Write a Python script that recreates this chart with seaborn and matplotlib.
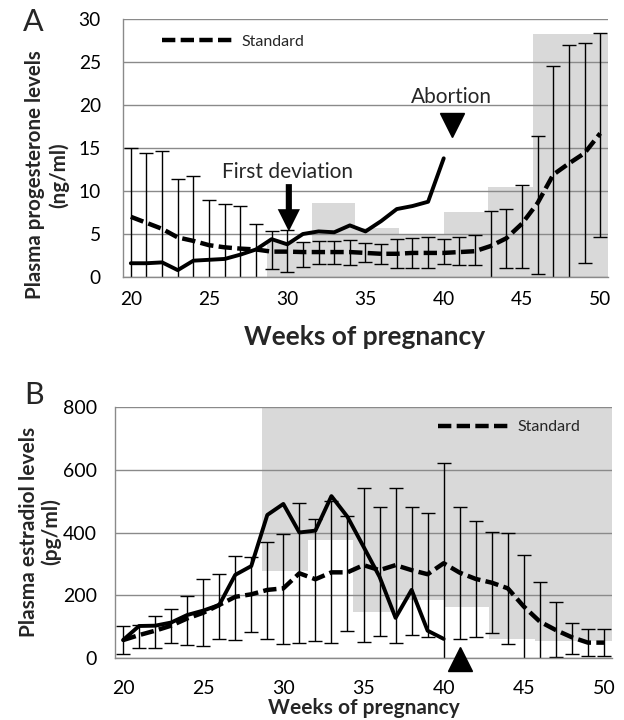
import matplotlib
matplotlib.use("Agg")
import matplotlib.pyplot as plt
from matplotlib.lines import Line2D
import seaborn as sns

# ---------------- data ----------------
weeks = list(range(20, 51))
patient_weeks = list(range(20, 41))

# Panel A: plasma progesterone (ng/ml)
a_std_mean = [7.0, 6.3, 5.6, 4.6, 4.2, 3.7, 3.45, 3.3, 3.2, 2.95, 2.95, 2.9, 2.9, 2.9, 2.9,
              2.8, 2.7, 2.7, 2.8, 2.8, 2.8, 2.9, 3.0, 3.6, 4.5, 6.2, 8.6, 11.9, 13.2, 14.4, 16.7]
a_std_upper = [15.0, 14.4, 14.7, 11.4, 11.7, 8.95, 8.5, 8.3, 6.2, 5.35, 5.5, 4.1, 4.2, 4.2, 4.3,
               4.0, 3.8, 4.4, 4.5, 4.6, 4.4, 4.6, 4.9, 7.7, 7.9, 10.7, 16.4, 24.5, 27.0, 27.2, 28.4]
a_std_lower = [-1.0, -2.0, -3.5, -2.2, -3.3, -1.5, -1.6, -1.7, -0.3, 0.9, 0.6, 1.2, 1.5, 1.55, 1.45,
               1.75, 1.55, 1.1, 1.0, 1.1, 1.55, 1.4, 1.4, -0.5, 1.0, 1.1, 0.35, -0.7, -0.6, 1.6, 4.7]
a_patient = [1.6, 1.6, 1.7, 0.8, 1.9, 2.0, 2.1, 2.6, 3.2, 4.4, 3.8, 5.0, 5.3, 5.2, 6.0, 5.3,
             6.5, 7.9, 8.25, 8.75, 13.8]

# reference-range blocks (week spans)
range_start = [28.7, 31.55, 34.35, 37.15, 40.0, 42.85, 45.7]
range_end = [31.55, 34.35, 37.15, 40.0, 42.85, 45.7, 50.5]
a_range_high = [4.1, 8.6, 5.7, 4.9, 7.6, 10.5, 28.3]

# Panel B: plasma estradiol (pg/ml)
b_std_mean = [57, 73, 87, 103, 126, 144, 169, 195, 203, 217, 222, 270, 251, 273, 273, 296,
              280, 296, 280, 267, 302, 272, 252, 240, 222, 164, 116, 89, 66, 49, 49]
b_std_upper = [103, 105, 134, 155, 199, 252, 268, 325, 323, 371, 395, 495, 443, 500, 453, 543,
               482, 541, 482, 461, 620, 480, 438, 402, 397, 327, 241, 177, 113, 91, 91]
b_std_lower = [12, 33, 31, 47, 43, 39, 62, 57, 83, 59, 45, 47, 54, 49, 87, 52, 71, 47, 73, 68,
               -20, 62, 68, 79, 45, -5, -10, 2, 13, 6, 6]
b_patient = [57, 102, 103, 113, 137, 151, 169, 265, 293, 456, 491, 400, 406, 516, 450, 355,
             259, 128, 217, 87, 61]
b_range_low = [276, 376, 146, 185, 164, 59, 53]

x_ticks = [20, 25, 30, 35, 40, 45, 50]
a_yticks = [0, 5, 10, 15, 20, 25, 30]
b_yticks = [0, 200, 400, 600, 800]

first_dev_week = 30.1
abortion_week_a = 40.5
abortion_week_b = 41

# ---------------- style ----------------
sns.set_theme(style="white")
plt.rcParams["font.family"] = ["Lato", "DejaVu Sans"]

GRAY_FILL = "#d9d9d9"
GRID = "#8a8a8a"
DASH = (0, (3.0, 1.2))

fig = plt.figure(figsize=(6.24, 7.2), dpi=100)
W, H = 624, 720
axA = fig.add_axes([123 / W, 1 - 277 / H, 485 / W, 258 / H])
axB = fig.add_axes([115 / W, 1 - 658 / H, 497 / W, 251 / H])


def style_axis(ax, ylim, yticks, xpad, ypad, fs):
    ax.set_xlim(19.5, 50.5)
    ax.set_ylim(*ylim)
    ax.set_xticks(x_ticks)
    ax.set_yticks(yticks)
    ax.set_axisbelow("line")
    ax.yaxis.grid(True, color=GRID, lw=1.0)
    ax.xaxis.grid(False)
    for s in ["top", "right"]:
        ax.spines[s].set_visible(False)
    for s in ["left", "bottom"]:
        ax.spines[s].set_color(GRID)
        ax.spines[s].set_linewidth(1.0)
    ax.tick_params(axis="x", length=0, pad=xpad, labelsize=fs, colors="black")
    ax.tick_params(axis="y", length=0, pad=ypad, labelsize=fs, colors="black")
    ax.set_xlabel("")
    ax.set_ylabel("")


# ---------------- Panel A ----------------
ax = axA
ax.bar(range_start, a_range_high, width=[e - s for s, e in zip(range_start, range_end)],
       align="edge", color=GRAY_FILL, edgecolor="none", zorder=0.5)
ax.errorbar(weeks, a_std_mean,
            yerr=[[m - l for m, l in zip(a_std_mean, a_std_lower)],
                  [u - m for m, u in zip(a_std_mean, a_std_upper)]],
            fmt="none", ecolor="black", elinewidth=1.0, capsize=4.7, capthick=1.0, zorder=2)
sns.lineplot(x=weeks, y=a_std_mean, ax=ax, color="black", lw=3.2, linestyle=DASH, zorder=3)
sns.lineplot(x=patient_weeks, y=a_patient, ax=ax, color="black", lw=2.8, zorder=3)
style_axis(ax, (0, 30), a_yticks, 10, 16, 13.8)

ax.annotate("", xy=(first_dev_week, 5.3), xytext=(first_dev_week, 10.8),
            arrowprops=dict(arrowstyle="simple, head_length=0.8, head_width=0.8, tail_width=0.22",
                            fc="black", ec="none", mutation_scale=20, shrinkA=0, shrinkB=0),
            zorder=4)
ax.text(30.0, 12.2, "First deviation", ha="center", va="center", fontsize=15, zorder=4)
ax.plot([abortion_week_a], [17.7], marker="v", ms=17, color="black", ls="none", zorder=4)
ax.text(abortion_week_a, 20.9, "Abortion", ha="center", va="center", fontsize=15, zorder=4)

ax.legend(handles=[Line2D([], [], color="black", lw=3.2, linestyle=DASH)],
          labels=["Standard"], loc="center left", bbox_to_anchor=(0.080, 0.911),
          frameon=False, handlelength=4.6, handletextpad=0.4, borderpad=0,
          borderaxespad=0, fontsize=11.5)

# ---------------- Panel B ----------------
ax = axB
ax.bar(range_start, [800 - v for v in b_range_low],
       width=[e - s for s, e in zip(range_start, range_end)], bottom=b_range_low,
       align="edge", color=GRAY_FILL, edgecolor="none", zorder=0.5)
ax.errorbar(weeks, b_std_mean,
            yerr=[[m - l for m, l in zip(b_std_mean, b_std_lower)],
                  [u - m for m, u in zip(b_std_mean, b_std_upper)]],
            fmt="none", ecolor="black", elinewidth=1.0, capsize=4.7, capthick=1.0, zorder=2)
sns.lineplot(x=weeks, y=b_std_mean, ax=ax, color="black", lw=3.2, linestyle=DASH, zorder=3)
sns.lineplot(x=patient_weeks, y=b_patient, ax=ax, color="black", lw=2.8, zorder=3)
style_axis(ax, (0, 800), b_yticks, 16, 13, 14)
ax.plot([abortion_week_b], [-3], marker="^", ms=17, color="black", ls="none",
        zorder=5, clip_on=False)

ax.legend(handles=[Line2D([], [], color="black", lw=3.2, linestyle=DASH)],
          labels=["Standard"], loc="center left", bbox_to_anchor=(0.65, 0.92),
          frameon=False, handlelength=4.6, handletextpad=0.4, borderpad=0,
          borderaxespad=0, fontsize=11.5)

# ---------------- labels ----------------
fig.text(47 / W, 1 - 175 / H, "Plasma progesterone levels\n(ng/ml)", rotation=90,
         ha="center", va="center", fontsize=14.8, fontweight="bold", linespacing=1.25,
         multialignment="center")
fig.text(365 / W, 1 - 337 / H, "Weeks of pregnancy", ha="center", va="center",
         fontsize=19, fontweight="bold")
fig.text(40 / W, 1 - 532 / H, "Plasma estradiol levels\n(pg/ml)", rotation=90,
         ha="center", va="center", fontsize=15, fontweight="bold", linespacing=1.1,
         multialignment="center")
fig.text(364 / W, 1 - 708 / H, "Weeks of pregnancy", ha="center", va="center",
         fontsize=15, fontweight="bold")

fig.text(33 / W, 1 - 22 / H, "A", ha="center", va="center", fontsize=22)
fig.text(34 / W, 1 - 395 / H, "B", ha="center", va="center", fontsize=22)

fig.savefig("out.png", dpi=100)
